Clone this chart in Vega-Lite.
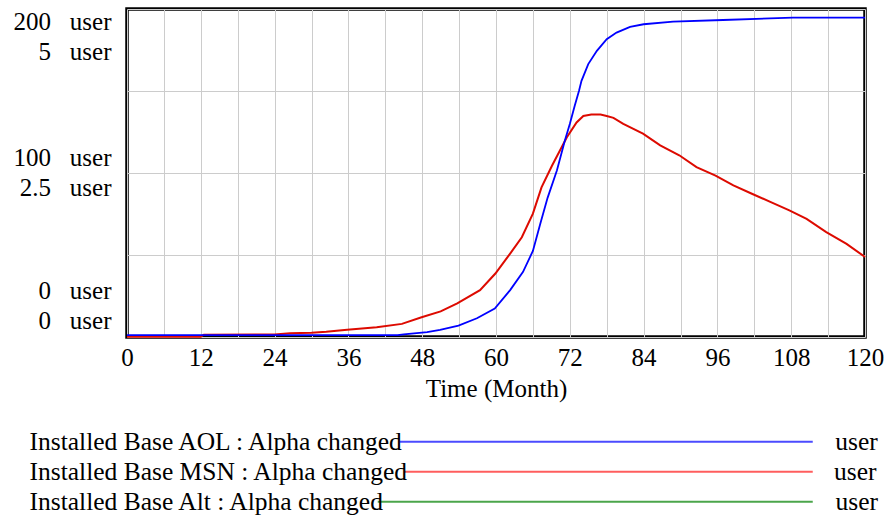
{
  "$schema": "https://vega.github.io/schema/vega-lite/v6.json",
  "width": 738,
  "height": 328,
  "autosize": {"type": "none"},
  "padding": {"left": 127, "top": 9, "right": 22, "bottom": 181},
  "background": "white",
  "config": {
    "font": "Liberation Serif",
    "view": {"stroke": "black", "strokeWidth": 3.5},
    "axis": {
      "labelFont": "Liberation Serif",
      "labelFontSize": 25,
      "labelColor": "black",
      "titleFont": "Liberation Serif",
      "titleFontSize": 25,
      "titleFontWeight": "normal",
      "titleColor": "black",
      "gridColor": "#cccccc",
      "gridWidth": 1,
      "domain": false,
      "ticks": false,
      "tickSize": 0
    }
  },
  "data": {
    "values": [
      {"t": 0, "series": "AOL", "value": 1.2},
      {"t": 44, "series": "AOL", "value": 1.2},
      {"t": 45, "series": "AOL", "value": 1.6},
      {"t": 48.8, "series": "AOL", "value": 3.0},
      {"t": 50.9, "series": "AOL", "value": 4.3},
      {"t": 53.9, "series": "AOL", "value": 6.9},
      {"t": 56.9, "series": "AOL", "value": 11.4},
      {"t": 59.8, "series": "AOL", "value": 17.4},
      {"t": 62.3, "series": "AOL", "value": 28.6},
      {"t": 64.4, "series": "AOL", "value": 39.7},
      {"t": 66, "series": "AOL", "value": 52.5},
      {"t": 67.2, "series": "AOL", "value": 69.1},
      {"t": 68.4, "series": "AOL", "value": 85},
      {"t": 69.9, "series": "AOL", "value": 101.5},
      {"t": 71.2, "series": "AOL", "value": 119.8},
      {"t": 72, "series": "AOL", "value": 129.9},
      {"t": 72.8, "series": "AOL", "value": 141},
      {"t": 73.5, "series": "AOL", "value": 150.2},
      {"t": 73.9, "series": "AOL", "value": 156.2},
      {"t": 75, "series": "AOL", "value": 166.4},
      {"t": 76.4, "series": "AOL", "value": 174.5},
      {"t": 78, "series": "AOL", "value": 181.6},
      {"t": 79.6, "series": "AOL", "value": 185.6},
      {"t": 81.8, "series": "AOL", "value": 189.1},
      {"t": 84, "series": "AOL", "value": 190.7},
      {"t": 88.8, "series": "AOL", "value": 192.3},
      {"t": 96.9, "series": "AOL", "value": 193.3},
      {"t": 108.3, "series": "AOL", "value": 194.7},
      {"t": 120, "series": "AOL", "value": 194.8},
      {"t": 0, "series": "MSN", "value": 0.005},
      {"t": 12, "series": "MSN", "value": 0.005},
      {"t": 12.5, "series": "MSN", "value": 0.035},
      {"t": 24, "series": "MSN", "value": 0.04},
      {"t": 26.5, "series": "MSN", "value": 0.056},
      {"t": 30, "series": "MSN", "value": 0.065},
      {"t": 32.4, "series": "MSN", "value": 0.08},
      {"t": 35.8, "series": "MSN", "value": 0.11},
      {"t": 40.6, "series": "MSN", "value": 0.147},
      {"t": 44.7, "series": "MSN", "value": 0.2},
      {"t": 47.9, "series": "MSN", "value": 0.3},
      {"t": 51, "series": "MSN", "value": 0.39},
      {"t": 53.7, "series": "MSN", "value": 0.512},
      {"t": 57.4, "series": "MSN", "value": 0.714},
      {"t": 59.9, "series": "MSN", "value": 0.968},
      {"t": 62.3, "series": "MSN", "value": 1.272},
      {"t": 64.2, "series": "MSN", "value": 1.52},
      {"t": 66, "series": "MSN", "value": 1.88},
      {"t": 67.4, "series": "MSN", "value": 2.28},
      {"t": 69.1, "series": "MSN", "value": 2.61},
      {"t": 71.5, "series": "MSN", "value": 3.04},
      {"t": 73.1, "series": "MSN", "value": 3.27},
      {"t": 74.2, "series": "MSN", "value": 3.37},
      {"t": 75.5, "series": "MSN", "value": 3.39},
      {"t": 77, "series": "MSN", "value": 3.39},
      {"t": 78, "series": "MSN", "value": 3.37},
      {"t": 79.1, "series": "MSN", "value": 3.34},
      {"t": 80.7, "series": "MSN", "value": 3.25},
      {"t": 83.9, "series": "MSN", "value": 3.1},
      {"t": 86.7, "series": "MSN", "value": 2.92},
      {"t": 89.8, "series": "MSN", "value": 2.77},
      {"t": 92.6, "series": "MSN", "value": 2.59},
      {"t": 95.7, "series": "MSN", "value": 2.46},
      {"t": 98.6, "series": "MSN", "value": 2.31},
      {"t": 101.7, "series": "MSN", "value": 2.18},
      {"t": 104.6, "series": "MSN", "value": 2.06},
      {"t": 107.7, "series": "MSN", "value": 1.93},
      {"t": 110.5, "series": "MSN", "value": 1.8},
      {"t": 113.7, "series": "MSN", "value": 1.6},
      {"t": 117, "series": "MSN", "value": 1.42},
      {"t": 120, "series": "MSN", "value": 1.22}
    ]
  },
  "layer": [
    {
      "transform": [{"filter": "datum.series == 'MSN'"}],
      "mark": {"type": "line", "color": "#dd0a00", "strokeWidth": 2},
      "encoding": {
        "x": {
          "field": "t", "type": "quantitative",
          "scale": {"domain": [0, 120], "nice": false},
          "axis": {
            "title": "Time (Month)",
            "values": [0, 6, 12, 18, 24, 30, 36, 42, 48, 54, 60, 66, 72, 78, 84, 90, 96, 102, 108, 114, 120],
            "labelExpr": "datum.value % 12 == 0 ? datum.label : ''",
            "labelFlush": false,
            "labelOverlap": false,
            "labelBound": false,
            "labelPadding": 8,
            "titlePadding": 6,
            "grid": true
          }
        },
        "y": {
          "field": "value", "type": "quantitative",
          "scale": {"domain": [0, 5], "nice": false},
          "axis": null
        }
      }
    },
    {
      "transform": [{"filter": "datum.series == 'AOL'"}],
      "mark": {"type": "line", "color": "#0000ff", "strokeWidth": 1.8},
      "encoding": {
        "x": {
          "field": "t", "type": "quantitative",
          "scale": {"domain": [0, 120], "nice": false},
          "axis": {
            "title": "Time (Month)",
            "values": [0, 6, 12, 18, 24, 30, 36, 42, 48, 54, 60, 66, 72, 78, 84, 90, 96, 102, 108, 114, 120],
            "labelExpr": "datum.value % 12 == 0 ? datum.label : ''",
            "labelFlush": false,
            "labelOverlap": false,
            "labelBound": false,
            "labelPadding": 8,
            "titlePadding": 6,
            "grid": true
          }
        },
        "y": {
          "field": "value", "type": "quantitative",
          "scale": {"domain": [0, 200], "nice": false},
          "axis": {
            "orient": "left",
            "title": null,
            "values": [0, 50, 100, 150, 200],
            "grid": true,
            "labelFlush": true,
            "labelFlushOffset": -3,
            "labelOverlap": false,
            "labelPadding": 16,
            "labelLineHeight": 30,
            "labelOffset": {
              "condition": [
                {"test": "datum.value == 200", "value": -3},
                {"test": "datum.value == 100", "value": -16}
              ],
              "value": -31
            },
            "labelExpr": "datum.value == 200 ? ['200\u00a0\u00a0\u00a0user', '5\u00a0\u00a0\u00a0user'] : datum.value == 100 ? ['100\u00a0\u00a0\u00a0user', '2.5\u00a0\u00a0\u00a0user'] : datum.value == 0 ? ['0\u00a0\u00a0\u00a0user', '0\u00a0\u00a0\u00a0user'] : ''"
          }
        }
      }
    },
    {
      "transform": [{"filter": "false"}],
      "mark": {"type": "point", "strokeWidth": 2},
      "encoding": {
        "color": {
          "field": "series", "type": "nominal",
          "scale": {"domain": ["AOL", "MSN", "Alt"], "range": ["#0000ff", "#ff1a1a", "#008000"]},
          "legend": {
            "orient": "none", "legendX": -123, "legendY": 420, "direction": "vertical",
            "title": null, "padding": 0,
            "labelFont": "Liberation Serif", "labelFontSize": 25.5, "labelColor": "black",
            "labelLimit": 2000, "labelOffset": 0,
            "symbolSize": 4, "symbolStrokeWidth": 2, "rowPadding": 3,
            "labelExpr": "'Installed Base ' + datum.label + ' : Alpha changed' + pad('', datum.label == 'AOL' ? 68 : datum.label == 'MSN' ? 67 : 71, '\u00a0') + 'user'"
          }
        },
        "shape": {
          "field": "series", "type": "nominal",
          "scale": {"domain": ["AOL", "MSN", "Alt"], "range": ["M383,0H796", "M388,0H796", "M361,0H796"]},
          "legend": {
            "orient": "none", "legendX": -123, "legendY": 420, "direction": "vertical",
            "title": null, "padding": 0,
            "labelFont": "Liberation Serif", "labelFontSize": 25.5, "labelColor": "black",
            "labelLimit": 2000, "labelOffset": 0,
            "symbolSize": 4, "symbolStrokeWidth": 2, "rowPadding": 3,
            "labelExpr": "'Installed Base ' + datum.label + ' : Alpha changed' + pad('', datum.label == 'AOL' ? 68 : datum.label == 'MSN' ? 67 : 71, '\u00a0') + 'user'"
          }
        }
      }
    }
  ],
  "resolve": {"scale": {"y": "independent"}}
}
